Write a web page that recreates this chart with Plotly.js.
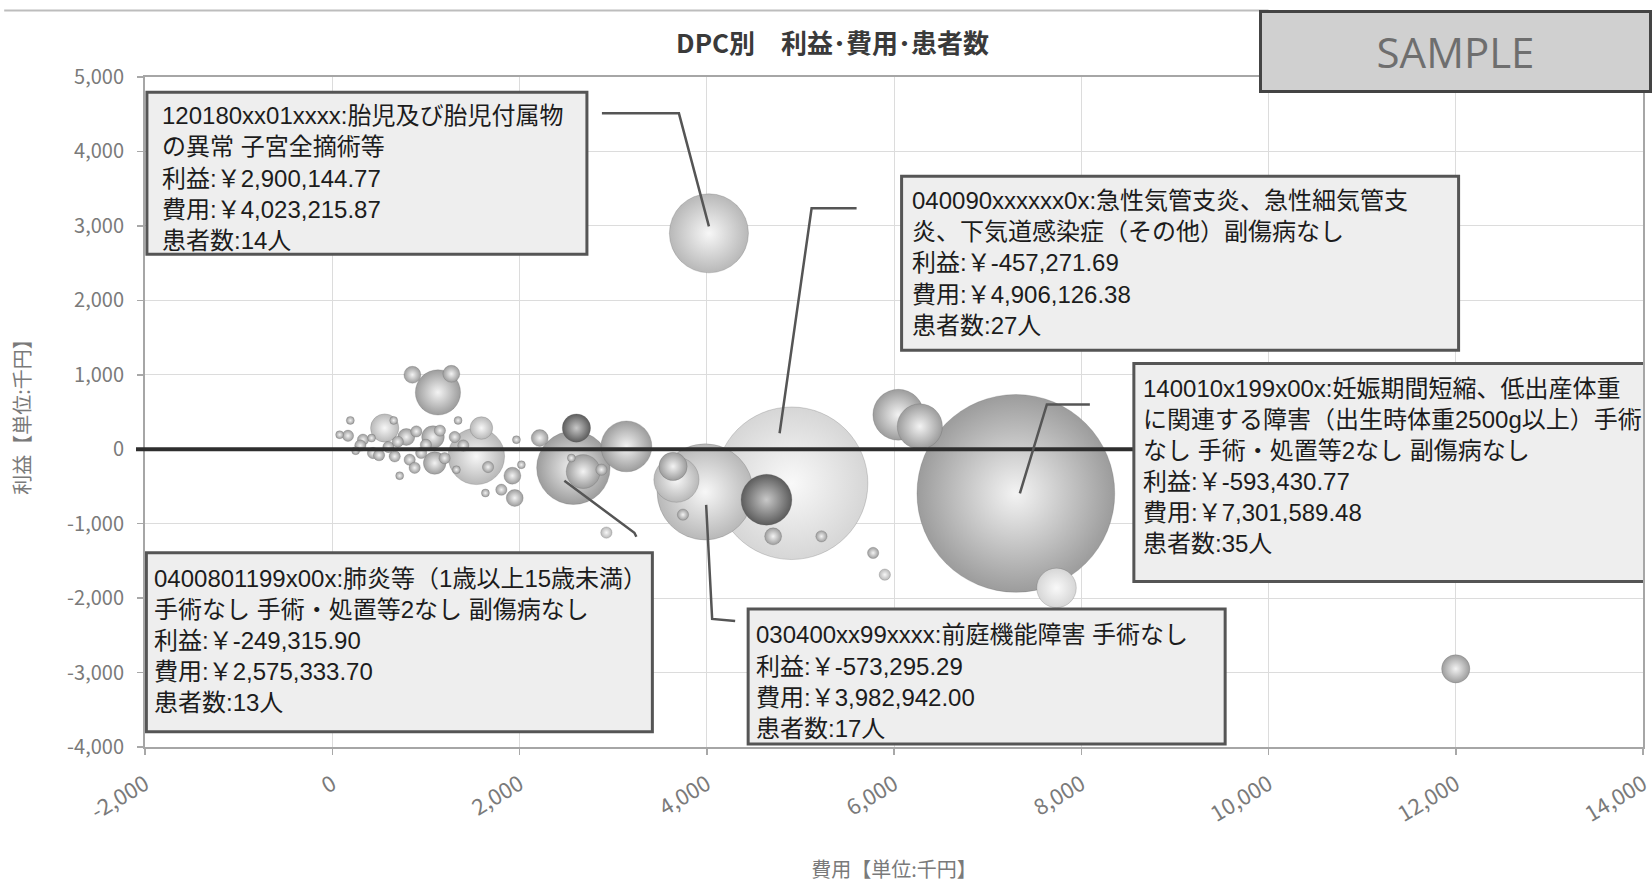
<!DOCTYPE html>
<html>
<head>
<meta charset="utf-8">
<script src="https://cdn.plot.ly/plotly-3.0.1.min.js"></script>
<style>html,body{margin:0;padding:0;background:#fff;}#chart{width:1652px;height:883px;}</style>
</head>
<body>
<div id="chart"></div>
<script>
// ---------------- DATA ----------------
// 費用 (千円)
const cost = [4023.21587, 4906.12638, 7301.58948, 2575.33370, 3982.94200,
  856, 1272, 1129, 193, 656, 1344, 560, 168, 328, 791, 898, 1076, 1308, 1593, 1539,
  1094, 667, 435, 827, 720, 1326, 1664, 1924, 1949, 1636, 1967, 1806, 2020, 79,
  2216, 2608, 2680, 2875, 2554, 3142, 2928, 3676, 3640, 3746, 4638, 4709, 5225,
  5777, 5902, 6046, 6276, 7736, 12000,
  300, 500, 600, 950, 1000, 420, 700, 250, 1200, 1400, 880, 1150];
// 利益 (千円)
const profit = [2900.14477, -457.27169, -593.43077, -249.31590, -573.29529,
  1000, 1013, 763, 387, 387, 387, 285, 181, 128, 164, 239, 164, 164, 285, -96,
  -186, -96, -51, -141, -356, -275, -239, -356, -655, -588, 128, -544, -208, 195,
  150, 285, -300, -275, -118, 38, -1120, -409, -231, -879, -678, -1170, -1170,
  -1393, -1685, 463, 306, -1863, -2950,
  50, -80, 30, -50, 60, 150, 100, -20, -120, 50, -250, 250];
// 患者数 (人)
const patients = [14, 27, 35, 13, 17,
  3, 3, 8, 1, 1, 1, 5, 2, 2, 3, 2, 4, 2, 4, 10,
  4, 2, 2, 2, 1, 1, 2, 3, 3, 1, 1, 2, 1, 1,
  3, 5, 6, 2, 1, 9, 2, 8, 5, 2, 9, 3, 2,
  2, 2, 9, 8, 7, 5,
  2, 2, 2, 2, 2, 1, 2, 1, 2, 2, 2, 2];
// DPC labels (first five points carry data labels)
const dpcLabelLines = [
  ['120180xx01xxxx:胎児及び胎児付属物', 'の異常 子宮全摘術等'],
  ['040090xxxxxx0x:急性気管支炎、急性細気管支', '炎、下気道感染症（その他）副傷病なし'],
  ['140010x199x00x:妊娠期間短縮、低出産体重', 'に関連する障害（出生時体重2500g以上）手術', 'なし 手術・処置等2なし 副傷病なし'],
  ['0400801199x00x:肺炎等（1歳以上15歳未満）', '手術なし 手術・処置等2なし 副傷病なし'],
  ['030400xx99xxxx:前庭機能障害 手術なし']
];
const xTickVals = [-2000, 0, 2000, 4000, 6000, 8000, 10000, 12000, 14000];
const xTickText = ['-2,000', '0', '2,000', '4,000', '6,000', '8,000', '10,000', '12,000', '14,000'];
const yTickVals = [-4000, -3000, -2000, -1000, 0, 1000, 2000, 3000, 4000, 5000];
const yTickText = ['-4,000', '-3,000', '-2,000', '-1,000', '0', '1,000', '2,000', '3,000', '4,000', '5,000'];

// ---------------- STYLE ----------------
// bubble tone per point: n normal, l light, x very light, d dark
const tone = ['l','x','n','n','l',
  'n','n','n','n','n','n','l','n','n','n','n','n','n','l','l',
  'n','n','n','n','n','n','n','n','n','n','n','n','n','n',
  'n','d','n','n','n','n','l','l','n','n','d','n','n',
  'n','l','n','n','x','n',
  'n','n','n','n','n','n','n','n','n','n','n','n'];
const toneEdge = {n:'#9c9c9c', l:'#b8b8b8', x:'#d6d6d6', d:'#5c5c5c'};
const toneCenter = {n:'#f3f3f3', l:'#f7f7f7', x:'#f9f9f9', d:'#c8c8c8'};
// label boxes: [left, right, top, bottom] pixel offsets from the bubble centre (up positive)
const labelBox = [
  [-562, -122, 141, -21],
  [110, 667, 307, 133],
  [118, 634, 130, -88],
  [-427, 79, -85, -264],
  [43, 520, -117, -252]
];
const labelPadX = [15, 10, 9, 8, 8];
const firstLineDrop = [23.5, 24.5, 25, 25.5, 26];   // box top -> centre of first text line
const lineStep = 31.1;
const leaderPaths = [
  'M 0,7 L -30,120 L -107,120',
  'M -12,50 L 20,275 L 65,275',
  'M 4,0 L 31,89 L 74,89',
  'M -9,-13 L 61,-65 L 63,-69',
  'M 1,-13 L 7,-127 L 30,-129'
];

function fmtYen(v) {
  const yen = v * 1000;
  const s = Math.abs(yen).toFixed(2);
  const parts = s.split('.');
  return (yen < 0 ? '-' : '') + parts[0].replace(/\B(?=(\d{3})+(?!\d))/g, ',') + '.' + parts[1];
}

// draw larger bubbles first
const order = cost.map((_, i) => i).sort((a, b) => patients[b] - patients[a]);

const trace = {
  type: 'scatter',
  mode: 'markers',
  x: order.map(i => cost[i]),
  y: order.map(i => profit[i]),
  marker: {
    size: order.map(i => patients[i]),
    sizemode: 'diameter',
    sizeref: 1 / 5.65,
    sizemin: 4,
    color: order.map(i => toneEdge[tone[i]]),
    gradient: {type: 'radial', color: order.map(i => toneCenter[tone[i]])},
    line: {width: 0.6, color: 'rgba(90,90,90,0.4)'},
    opacity: 1
  },
  hoverinfo: 'skip'
};

const FONT = '"Noto Sans CJK JP", "Noto Sans", sans-serif';
const LABEL_FONT = '"Liberation Sans", "Noto Sans CJK JP", sans-serif';

const annotations = [];
dpcLabelLines.forEach((lines, i) => {
  const all = lines.concat([
    '利益:￥' + fmtYen(profit[i]),
    '費用:￥' + fmtYen(cost[i]),
    '患者数:' + patients[i] + '人'
  ]);
  all.forEach((line, k) => {
    annotations.push({
      x: cost[i], y: profit[i], xref: 'x', yref: 'y',
      showarrow: false,
      xanchor: 'left', yanchor: 'middle',
      xshift: labelBox[i][0] + labelPadX[i],
      yshift: labelBox[i][2] - firstLineDrop[i] - k * lineStep,
      align: 'left',
      text: line,
      font: {family: LABEL_FONT, size: 24, color: '#1c1c1c'},
      borderwidth: 0, borderpad: 0
    });
  });
});

annotations.push({
  xref: 'paper', yref: 'paper', x: 0.7436, y: 1.0993,
  xanchor: 'left', yanchor: 'top', showarrow: false,
  width: 379, height: 69,
  text: 'SAMPLE',
  font: {family: '"Open Sans", "Noto Sans", sans-serif', size: 42, color: '#6e6e6e'},
  bgcolor: '#d0d0d0', bordercolor: '#444444', borderwidth: 3, borderpad: 4
});

const shapes = [
  // thin header rule
  {type: 'line', xref: 'paper', yref: 'paper', x0: -0.094, x1: 0.75, y0: 1.0993, y1: 1.0993,
   line: {color: '#bdbdbd', width: 2}, layer: 'below'},
  // zero reference line
  {type: 'line', xref: 'paper', yref: 'y', x0: -0.006, x1: 1, y0: 0, y1: 0,
   line: {color: '#2e2e2e', width: 4}, layer: 'above'}
];
dpcLabelLines.forEach((_, i) => {
  shapes.push({
    type: 'path', xref: 'x', yref: 'y',
    xsizemode: 'pixel', ysizemode: 'pixel',
    xanchor: cost[i], yanchor: profit[i],
    path: leaderPaths[i],
    line: {color: '#555555', width: 2.5},
    layer: 'above'
  });
  const b = labelBox[i];
  shapes.push({
    type: 'rect', xref: 'x', yref: 'y',
    xsizemode: 'pixel', ysizemode: 'pixel',
    xanchor: cost[i], yanchor: profit[i],
    x0: b[0], x1: b[1], y0: b[3], y1: b[2],
    fillcolor: '#eeeeee',
    line: {color: '#555555', width: 3},
    layer: 'above'
  });
});

const layout = {
  width: 1652, height: 883,
  margin: {l: 145, r: 9, t: 77, b: 136},
  paper_bgcolor: '#ffffff', plot_bgcolor: '#ffffff',
  font: {family: FONT, color: '#333'},
  showlegend: false,
  title: {
    text: '<b>DPC別　利益･費用･患者数</b>',
    font: {family: FONT, size: 26, color: '#3a3a3a'},
    x: 0.504, xref: 'container', xanchor: 'center',
    y: 0.95, yref: 'container', yanchor: 'middle'
  },
  xaxis: {
    range: [-2000, 14000],
    tickmode: 'array', tickvals: xTickVals, ticktext: xTickText,
    tickangle: -31,
    tickfont: {family: FONT, size: 22, color: '#7a7a7a'},
    ticks: 'outside', ticklen: 6, tickcolor: '#a8a8a8', tickwidth: 1.5,
    ticklabelstandoff: 8,
    ticklabeloverflow: 'allow',
    showgrid: true, gridcolor: '#dcdcdc', gridwidth: 1,
    zeroline: false,
    showline: true, linecolor: '#a6a6a6', linewidth: 2, mirror: true,
    title: {text: '費用【単位:千円】', font: {family: FONT, size: 20, color: '#7a7a7a'}, standoff: 46}
  },
  yaxis: {
    range: [-4000, 5000],
    tickmode: 'array', tickvals: yTickVals, ticktext: yTickText,
    tickfont: {family: FONT, size: 20, color: '#7a7a7a'},
    ticks: 'outside', ticklen: 6, tickcolor: '#a8a8a8', tickwidth: 1.5,
    ticklabelstandoff: 9,
    showgrid: true, gridcolor: '#dcdcdc', gridwidth: 1,
    zeroline: false,
    showline: true, linecolor: '#a6a6a6', linewidth: 2, mirror: true,
    title: {text: '利益【単位:千円】', font: {family: FONT, size: 20, color: '#7a7a7a'}, standoff: 31}
  },
  annotations: annotations,
  shapes: shapes
};

Plotly.newPlot('chart', [trace], layout, {displayModeBar: false, staticPlot: true});
</script>
</body>
</html>
